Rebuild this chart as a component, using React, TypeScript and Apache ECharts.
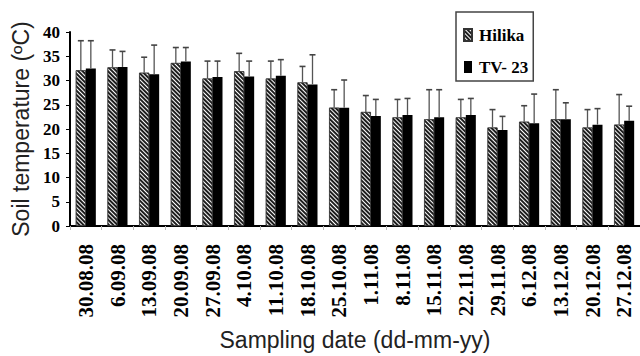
import React, { useEffect, useRef } from "react";
import * as echarts from "echarts";

const categories = [
  "30.08.08", "6.09.08", "13.09.08", "20.09.08", "27.09.08", "4.10.08",
  "11.10.08", "18.10.08", "25.10.08", "1.11.08", "8.11.08", "15.11.08",
  "22.11.08", "29.11.08", "6.12.08", "13.12.08", "20.12.08", "27.12.08",
];
const hilika = [32.1, 32.7, 31.6, 33.6, 30.4, 31.9, 30.4, 29.6, 24.4, 23.5, 22.4, 22.0, 22.4, 20.3, 21.5, 22.0, 20.3, 20.9];
const tv23 = [32.5, 32.8, 31.3, 33.9, 30.7, 30.8, 31.0, 29.2, 24.4, 22.7, 22.9, 22.4, 22.9, 19.8, 21.2, 22.0, 20.9, 21.7];
const hilikaErrTop = [38.2, 36.3, 34.8, 36.8, 34.0, 35.6, 34.0, 32.9, 28.1, 26.9, 26.1, 28.1, 26.1, 24.0, 24.8, 28.1, 24.0, 27.1];
const tv23ErrTop = [38.2, 36.0, 37.3, 36.8, 34.0, 34.0, 34.3, 35.3, 30.1, 26.1, 26.3, 28.1, 26.3, 22.6, 27.2, 25.4, 24.2, 24.7];
const yTicks = { min: 0, max: 40, interval: 5 };

const BAR_W = 10;

function errorSeries(name: string, vals: number[], tops: number[], offset: number) {
  return {
    type: "custom",
    name,
    z: 5,
    silent: true,
    data: vals.map((v, i) => [i, v, tops[i]]),
    encode: { x: 0, y: [1, 2] },
    renderItem: (params: any, api: any) => {
      const idx = api.value(0);
      const base = api.coord([idx, api.value(1)]);
      const top = api.coord([idx, api.value(2)]);
      const x = base[0] + offset;
      return {
        type: "group",
        children: [
          { type: "line", shape: { x1: x, y1: base[1], x2: x, y2: top[1] }, style: { stroke: "#555", lineWidth: 1.3 } },
          { type: "line", shape: { x1: x - 3, y1: top[1], x2: x + 3, y2: top[1] }, style: { stroke: "#444", lineWidth: 1.6 } },
        ],
      };
    },
  };
}

export default function App() {
  const ref = useRef<HTMLDivElement>(null);
  useEffect(() => {
    if (!ref.current) return;
    const chart = echarts.init(ref.current, null, { renderer: "svg" });
    const serif = "Liberation Serif";
    const sans = "Liberation Sans";
    chart.setOption({
      animation: false,
      backgroundColor: "#fff",
      grid: { left: 70, right: -5, top: 32, bottom: 127, containLabel: false },
      legend: {
        left: 456,
        top: 12,
        orient: "vertical",
        data: ["Hilika", "TV- 23"],
        icon: "rect",
        itemWidth: 8,
        itemHeight: 12,
        itemGap: 12,
        borderColor: "#444",
        borderWidth: 1.5,
        padding: [13, 5, 4, 7],
        textStyle: { fontFamily: serif, fontWeight: "bold", fontSize: 17, color: "#000", lineHeight: 20, padding: [0, 0, 0, 2] },
      },
      xAxis: {
        type: "category",
        data: categories,
        name: "Sampling date (dd-mm-yy)",
        nameLocation: "middle",
        nameGap: 102,
        nameTextStyle: { fontFamily: sans, fontSize: 23, color: "#222" },
        axisLine: { lineStyle: { color: "#000", width: 2 } },
        axisTick: { show: true, length: 4, lineStyle: { color: "#bbb" } },
        axisLabel: { interval: 0, rotate: 90, fontFamily: serif, fontWeight: "bold", fontSize: 21, color: "#000", margin: 18 },
      },
      yAxis: {
        type: "value",
        min: yTicks.min,
        max: yTicks.max,
        interval: yTicks.interval,
        name: "Soil temperature (ºC)",
        nameLocation: "middle",
        nameGap: 34,
        nameTextStyle: { fontFamily: sans, fontSize: 23, color: "#222" },
        axisLine: { show: true, lineStyle: { color: "#000", width: 2 } },
        axisTick: { show: true, length: 4, lineStyle: { color: "#000" } },
        splitLine: { show: false },
        axisLabel: { fontFamily: serif, fontWeight: "bold", fontSize: 17, color: "#000", margin: 10 },
      },
      series: [
        {
          type: "bar",
          name: "Hilika",
          data: hilika,
          barWidth: BAR_W,
          barGap: "0%",
          itemStyle: {
            color: "#fff",
            borderColor: "#333",
            borderWidth: 0.6,
            decal: {
              symbol: "rect",
              symbolSize: 1,
              color: "#1e1e1e",
              dashArrayX: [1, 0],
              dashArrayY: [2, 1],
              rotation: Math.PI / 4,
            },
          },
        },
        {
          type: "bar",
          name: "TV- 23",
          data: tv23,
          barWidth: BAR_W,
          barGap: "0%",
          itemStyle: { color: "#000" },
        },
        errorSeries("Hilika err", hilika, hilikaErrTop, -BAR_W / 2),
        errorSeries("TV- 23 err", tv23, tv23ErrTop, BAR_W / 2),
      ],
    });
    return () => chart.dispose();
  }, []);
  return <div ref={ref} style={{ width: 640, height: 356, position: "absolute", left: 0, top: 0 }} />;
}
